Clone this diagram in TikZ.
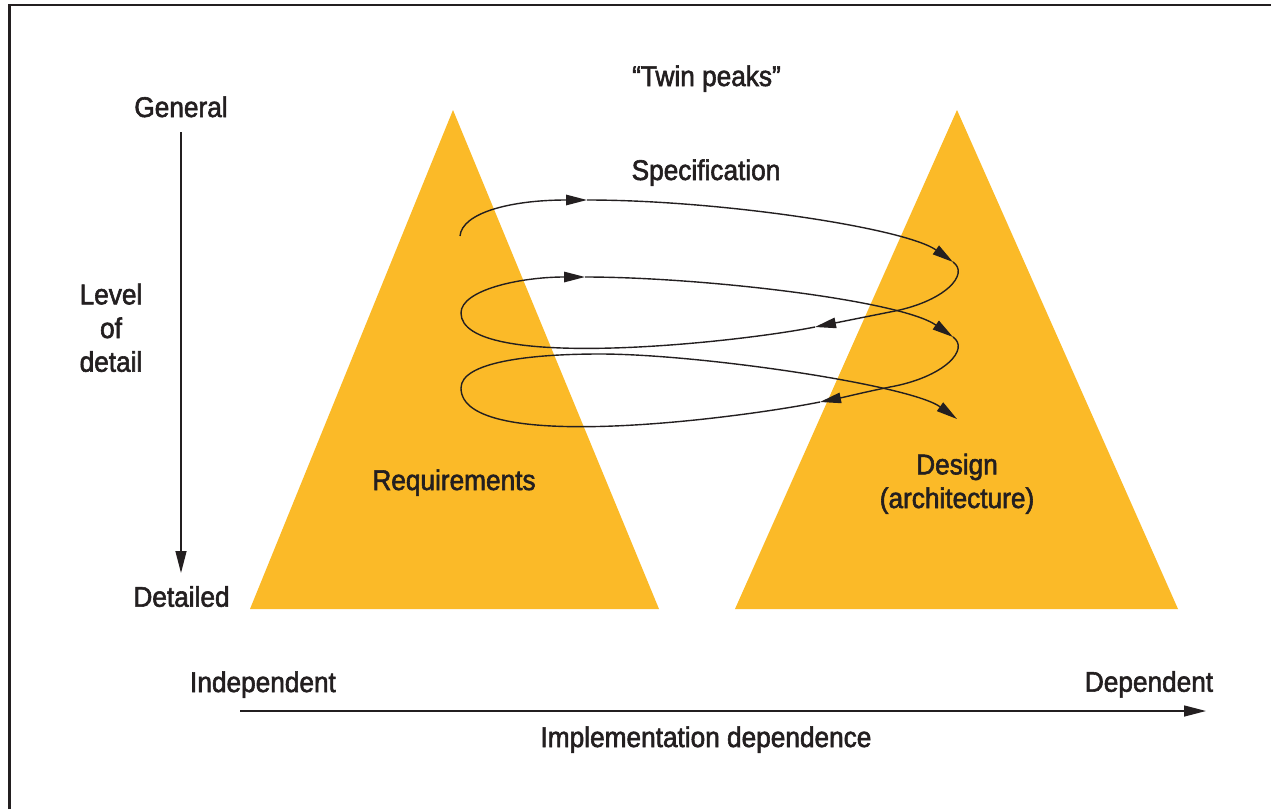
\documentclass[tikz,border=0pt]{standalone}
\usepackage{fontspec}
\setmainfont[FakeStretch=0.92,FakeBold=2]{Liberation Sans}
\usetikzlibrary{arrows.meta}
\definecolor{peak}{RGB}{251,186,40}
\definecolor{ink}{RGB}{35,31,32}
\begin{document}
\begin{tikzpicture}[x=1pt,y=-1pt,
  lbl/.style={font=\fontsize{28.5}{33.7}\selectfont, text=ink, inner sep=0pt, anchor=base},
  flow/.style={line width=1.4pt, draw=ink, -{Triangle[length=21pt,width=10.5pt]}},
  axis/.style={line width=1.4pt, draw=ink, -{Triangle[length=22pt,width=11pt]}}]
\useasboundingbox (0,0) rectangle (1271,809);
\fill[white] (0,0) rectangle (1271,809);
% frame
\draw[line width=2.6pt, ink] (9.5,809) -- (9.5,5) -- (1271,5);
% peaks
\fill[peak] (453,110) -- (250,609) -- (659,609) -- cycle;
\fill[peak] (957,110) -- (735,609) -- (1178,609) -- cycle;
% labels
\node[lbl] (twin) at (706.5,86) {“Twin peaks”};
\node[lbl] (spec) at (706,180) {Specification};
\node[lbl] (gen) at (181,117) {General};
\node[lbl, align=center] (lod) at (111,371.7) {Level\\of\\detail};
\node[lbl] (det) at (181.5,606.7) {Detailed};
\node[lbl] (req) at (454,490) {Requirements};
\node[lbl, align=center] (des) at (957,508) {Design\\(architecture)};
\node[lbl] (ind) at (263,692) {Independent};
\node[lbl] (dep) at (1149,691.7) {Dependent};
\node[lbl] (impl) at (706,747) {Implementation dependence};
% axes
\coordinate (va1) at (181,132);
\coordinate (va2) at (181,573);
\coordinate (ha1) at (240,711);
\coordinate (ha2) at (1206,711);
\draw[axis] (va1) -- (va2);
\draw[axis] (ha1) -- (ha2);
% spiral
\coordinate (s0) at (460,236);
\coordinate (t1) at (587,200);
\coordinate (t2) at (953,262);
\coordinate (x1) at (890,312);
\coordinate (t3) at (815,327);
\coordinate (l2) at (461,313);
\coordinate (t4) at (585,277);
\coordinate (t5) at (953,337);
\coordinate (x2) at (890,387);
\coordinate (t6) at (820,402);
\coordinate (l3) at (461,388);
\coordinate (u3) at (600,354);
\coordinate (t7) at (957,419);
\draw[flow] (s0) .. controls (462,213) and (510,200) .. (t1);
\draw[flow] (t1) .. controls (720,200) and (905,228) .. (t2);
\draw[flow] (t2) .. controls (970,274) and (945,302) .. (x1) .. controls (865,317) and (840,322) .. (t3);
\draw[flow] (t3) .. controls (735,343) and (461,372) .. (l2) .. controls (461,290) and (520,277) .. (t4);
\draw[flow] (t4) .. controls (700,277) and (900,300) .. (t5);
\draw[flow] (t5) .. controls (970,349) and (945,377) .. (x2) .. controls (865,392) and (845,397) .. (t6);
\draw[flow] (t6) .. controls (740,418) and (461,455) .. (l3) .. controls (461,362) and (530,354) .. (u3) .. controls (700,354) and (910,385) .. (t7);
\end{tikzpicture}
\end{document}
